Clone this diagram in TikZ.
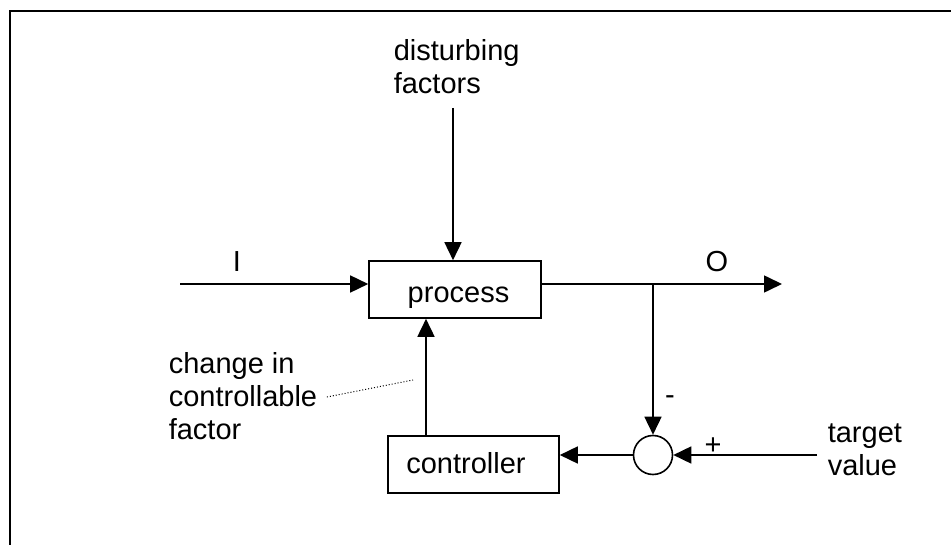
\documentclass[tikz,border=0pt]{standalone}
\usepackage{fontspec}
\setmainfont{Liberation Sans}
\usetikzlibrary{arrows.meta}
\begin{document}
\begin{tikzpicture}[x=1pt,y=-1pt,
  line width=1.6pt,
  arr/.style={-{Triangle[length=18pt,width=17pt]}},
  lbl/.style={font=\fontsize{29}{33}\selectfont, inner sep=0pt},
  blk/.style={draw, lbl, minimum width=172pt, minimum height=57pt, inner sep=0pt, text depth=0pt}]
\useasboundingbox (0,0) rectangle (951,545);
\draw[line width=2.4pt] (10,545) -- (10,11) -- (951,11);
\node[blk, text height=27pt] (proc) at (455,289.5) {\hspace*{7pt}process};
\node[blk, minimum width=171pt, text height=17pt] (ctrl) at (473.5,464.5) {controller\hspace*{15pt}};
\node[draw, circle, minimum size=39pt, inner sep=0pt] (sum) at (653,455) {};
\coordinate (iin) at (180,284);
\coordinate (oend) at (782,284);
\coordinate (br) at (653,284);
\coordinate (tv) at (817,455);
\coordinate (cup) at (426,0);
\coordinate (dtop) at (453,108);
\coordinate (d2) at (413,380);
\draw[arr] (iin) -- (proc.west |- iin);
\draw[arr] (proc.east |- oend) -- (oend);
\draw[arr] (br) -- (sum.north);
\draw[arr] (tv) -- (sum.east);
\draw[arr] (sum.west) -- (sum.west -| ctrl.east);
\draw[arr] (ctrl.north -| cup) -- (proc.south -| cup);
\draw[arr] (dtop) -- (proc.north -| dtop);
\node[lbl] (li) at (237,262) {I};
\node[lbl] (lo) at (717,262) {O};
\node[lbl] (lm) at (670,400) {-};
\node[lbl] (lp) at (713,446) {+};
\node[lbl, align=left, anchor=west] (dist) at (393,67) {disturbing\\factors};
\node[lbl, align=left, anchor=west] (tgt) at (827,450) {target\\value};
\node[lbl, align=left, anchor=west] (chg) at (168,396) {change in\\controllable\\factor};
\draw[dotted, line width=1pt] ([xshift=9pt,yshift=-1pt]chg.east) -- (d2);
\end{tikzpicture}
\end{document}
